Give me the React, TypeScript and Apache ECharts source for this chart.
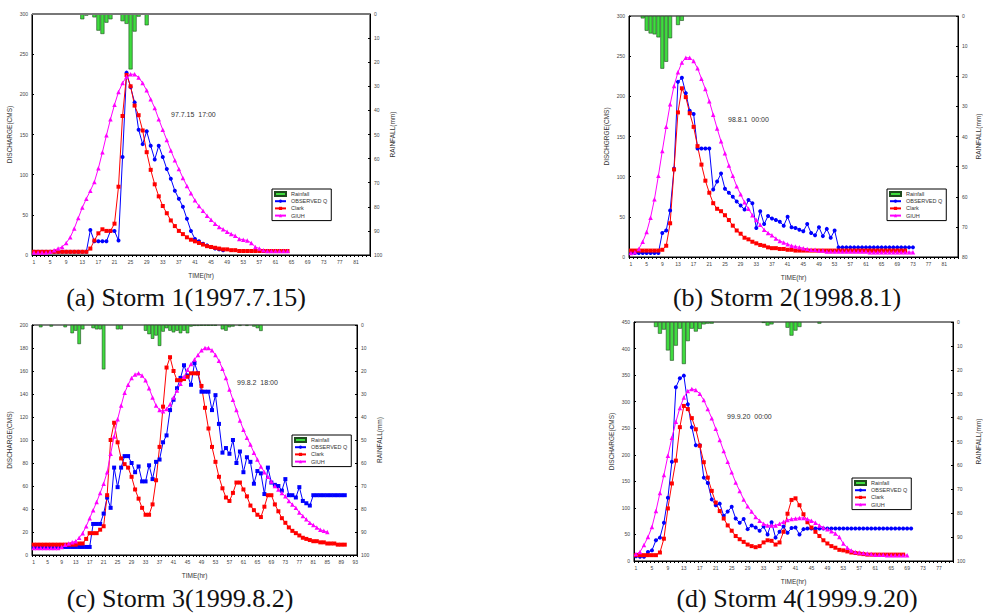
import React, { useEffect, useRef } from "react";
import * as echarts from "echarts";

// ---------- categories (hours) ----------
const hours = (n: number) => Array.from({ length: n }, (_, i) => String(i + 1));
const catsA = hours(84);
const catsB = hours(84);
const catsC = hours(93);
const catsD = hours(80);

// ---------- Storm 1 (1997.7.15) ----------
const rainA = [0, 0, 0, 0, 0, 0, 0, 0, 0, 0, 0, 0, 2.2, 0.7, 0, 1.4, 6.9, 8.3, 3.6, 2.2, 0.3, 0, 3, 4.1, 23, 7.3, 1.1, 0, 4.7];
const obsA = [4, 4, 4, 4, 4, 4, 4, 4, 4, 4, 4, 4, 4, 4,
  31, 17, 17, 17, 17, 30, 30, 18,
  122, 227, 209, 190, 156, 138, 154, 136, 119, 136,
  122, 107, 95, 80, 70, 60, 45, 30, 20, 17,
  14, 12, 10, 8, 7, 6];
const clarkA = [4, 4, 4, 4, 4, 4, 4, 4, 4, 4, 4, 4, 4, 4,
  8, 18, 27, 32, 30, 30, 39, 85, 173, 224,
  210, 186, 174, 155, 128, 106, 88, 73, 61, 52,
  43, 36, 30, 26, 22, 19, 17, 15, 13, 11,
  10, 9, 8, 7, 7, 6, 6, 5, 5, 5,
  5, 5, 5, 5, 5, 5, 5, 5, 5, 5];
const giuhA = [3, 3, 3, 3, 4, 6, 8, 10, 15, 22,
  33, 46, 59, 70, 80, 91, 108, 128, 149, 169,
  187, 203, 214, 222, 225, 225, 221, 214, 205, 194,
  183, 169, 156, 143, 130, 118, 107, 96, 86, 77,
  68, 61, 55, 49, 44, 39, 35, 32, 29, 26,
  24, 20, 19, 18, 15, 10, 8, 6, 5, 5,
  5, 5, 5, 5];

// ---------- Storm 2 (1998.8.1) ----------
const rainB = [0, 0, 0, 0.8, 4.9, 5.8, 6.1, 7.1, 17.5, 15.2, 7.4, 0, 3, 1.6];
const obsB = [5, 5, 5, 5, 5, 5, 5, 5,
  30, 33, 58, 110, 218, 223, 204, 182, 178, 135,
  135, 135, 135, 84, 94, 104, 85, 80, 75, 69,
  64, 59, 71, 67, 36, 57, 41, 51, 48, 46,
  44, 39, 50, 37, 36, 34, 32, 41, 30, 27,
  37, 26, 35, 24, 33,
  12, 12, 12, 12, 12, 12, 12, 12, 12, 12, 12, 12, 12, 12, 12, 12, 12, 12, 12, 12];
const clarkB = [8, 8, 8, 8, 8, 8, 8, 8,
  9, 14, 42, 109, 180, 210, 199, 179, 162, 138,
  115, 95, 80, 67, 60, 57, 52, 46, 39, 33,
  29, 24, 22, 19, 17, 15, 14, 12, 11, 11,
  10, 10, 9, 9, 8, 8, 8, 8, 8, 8,
  8, 8, 8, 8, 8, 8, 8, 8, 8, 8, 8, 8, 8, 8, 8, 8, 8, 8, 8, 8, 8, 8, 8];
const giuhB = [5, 6, 10, 19, 31, 49, 72, 101, 132, 162,
  190, 213, 230, 242, 248, 248, 244, 235, 222, 209,
  194, 177, 160, 144, 129, 114, 101, 88, 78, 68,
  60, 52, 46, 40, 34, 30, 27, 23, 20, 18,
  16, 14, 13, 12, 11, 10, 9, 9, 8, 8,
  7, 7, 7, 7, 7, 7, 7, 7, 7, 7, 7, 6, 6, 6, 6, 6, 6, 6, 6, 6, 6, 6, 6];

// ---------- Storm 3 (1999.8.2) ----------
const rainC = [0, 0, 1, 0, 0, 0.7, 0, 0, 0, 1,
  0, 3.6, 2.5, 8.3, 1.9, 0, 0, 1.4, 1.9, 1.9,
  19.3, 0, 0, 0, 1.9, 1.9, 0, 0, 0, 0,
  0, 0, 2.5, 4, 6, 4.6, 9.1, 2.9, 1.4, 2.5,
  3.2, 2.5, 3.6, 2.5, 3.6, 0.7, 0.4, 0.4, 0.3, 0.3,
  0.3, 0.3, 0.3, 0, 1.9, 2.5, 1, 0.7, 0, 0.4,
  0, 0.4, 0, 0.7, 1.4, 2.6];
const obsC = [7, 7, 7, 7, 7, 7, 7, 7, 7, 7, 7, 7, 7, 7, 7, 7, 7,
  27, 27, 27, 36, 50, 41, 76, 59, 76, 86,
  86, 80, 72, 77, 64, 64, 78, 66, 81, 83,
  98, 104, 126, 135, 145, 154, 165, 156, 148, 167,
  158, 142, 142, 142, 126, 139, 114, 89, 93, 88,
  100, 80, 90, 72, 85, 81, 62, 73, 71, 53,
  76, 63, 61, 60, 56, 66, 52, 52, 50, 59,
  47, 45, 43, 52,
  52, 52, 52, 52, 52, 52, 52, 52, 52];
const clarkC = [9, 9, 9, 9, 9, 9, 9, 9, 9, 9, 9, 9, 9,
  10, 10, 14, 19, 19, 19, 22, 25, 52, 100,
  115, 98, 84, 79, 76, 68, 57, 49, 41, 35,
  35, 44, 65, 94, 129, 163, 172, 160, 152, 152,
  153, 155, 158, 158, 158, 147, 128, 110, 94, 81,
  68, 58, 50, 47, 54, 63, 63, 57, 51, 43,
  39, 35, 33, 42, 52, 52, 44, 38, 32, 28,
  24, 21, 19, 17, 15, 14, 13, 12, 12, 11,
  11, 10, 10, 10, 9, 9, 9];
const giuhC = [6, 6, 6, 6, 6, 6, 6, 6, 7, 9,
  10, 11, 12, 15, 19, 25, 32, 39, 46, 54,
  62, 72, 88, 103, 118, 130, 141, 148, 154, 157,
  158, 156, 152, 145, 137, 130, 126, 125, 127, 131,
  137, 143, 149, 155, 161, 166, 170, 174, 178, 180,
  180, 178, 174, 169, 162, 154, 144, 135, 126, 117,
  109, 102, 96, 89, 83, 77, 72, 68, 64, 60,
  57, 54, 51, 47, 44, 41, 37, 34, 31, 28,
  26, 24, 22, 21, 20];

// ---------- Storm 4 (1999.9.20) ----------
const rainD = [0, 0, 0, 0, 0, 2.1, 4.9, 3.2, 11.9, 16.2,
  9.9, 2.8, 17.6, 8, 2.8, 4, 2.9, 1, 0.7, 0.7,
  0, 0, 0, 0, 0, 0, 0, 0, 0, 0,
  0, 0, 0.4, 1.5, 1, 0, 0, 0, 2.4, 5.7,
  3.6, 2.1, 0, 0, 0, 0, 0.7];
const obsD = [9, 8, 8, 17, 20, 39, 44, 72, 119, 187,
  327, 344, 349, 295, 252, 218, 218, 157, 147, 116,
  105, 108, 85, 93, 102, 80, 72, 79, 60, 67,
  63, 57, 65, 50, 73, 44, 55, 65, 53, 62,
  63, 50, 60,
  61, 61, 61, 61, 61, 61, 61, 61, 61, 61, 61, 61, 61, 61, 61, 61, 61, 61, 61, 61, 61, 61, 61, 61, 61, 61, 61];
const clarkD = [11, 11, 11, 11, 11, 11,
  16, 42, 99, 146, 189, 252, 292, 286, 269, 248,
  217, 186, 157, 132, 110, 94, 80, 67, 57, 47,
  41, 36, 31, 28, 26, 28, 35, 39, 38, 31,
  35, 55, 89, 115, 118, 105, 88, 73, 63, 55,
  47, 39, 33, 28, 25, 21, 20, 18, 16, 15,
  14, 13, 12, 12, 12, 12, 12, 12, 12, 12, 12, 12];
const giuhD = [13, 17, 30, 45, 64, 94, 128, 162, 198, 232,
  262, 288, 308, 320, 324, 322, 315, 303, 286, 269,
  249, 228, 207, 187, 167, 148, 132, 116, 103, 93,
  83, 76, 70, 67, 67, 67, 70, 74, 77, 79,
  80, 81, 81, 79, 76, 72, 67, 63, 60, 56,
  52, 45, 33, 25, 20, 17, 16, 15, 14, 13,
  12, 12, 12, 11, 11, 11, 11, 11, 11];

const seriesNames = ["Rainfall", "OBSERVED Q", "Clark", "GIUH"];
const yNames = ["DISCHARGE(CMS)", "DISCHGRGE(CMS)", "DISCHARGE(CMS)", "DISCHARGE(CMS)"];
const dateTexts = ["97.7.15  17:00", "98.8.1  00:00", "99.8.2  18:00", "99.9.20  00:00"];
const captions = ["(a) Storm 1(1997.7.15)", "(b) Storm 2(1998.8.1)", "(c) Storm 3(1999.8.2)", "(d) Storm 4(1999.9.20)"];

const panels = [
  { cats: catsA, rain: rainA, obs: obsA, clark: clarkA, giuh: giuhA, qMax: 300, qInt: 50, rMax: 100, obsSym: "circle", rGap: 19,
    grid: { left: 32, top: 14, width: 338, height: 241 }, legend: { left: 272, top: 189 }, date: [171, 115], cap: [186, 297] },
  { cats: catsB, rain: rainB, obs: obsB, clark: clarkB, giuh: giuhB, qMax: 300, qInt: 50, rMax: 80, obsSym: "circle", rGap: 17,
    grid: { left: 629, top: 16, width: 332, height: 241 }, legend: { left: 887, top: 189 }, date: [728, 120], cap: [787, 297] },
  { cats: catsC, rain: rainC, obs: obsC, clark: clarkC, giuh: giuhC, qMax: 200, qInt: 20, rMax: 100, obsSym: "rect", rGap: 19,
    grid: { left: 32, top: 325, width: 325, height: 230 }, legend: { left: 292, top: 435 }, date: [237, 383], cap: [180, 598] },
  { cats: catsD, rain: rainD, obs: obsD, clark: clarkD, giuh: giuhD, qMax: 450, qInt: 50, rMax: 100, obsSym: "circle", rGap: 22,
    grid: { left: 634, top: 322, width: 328, height: 239 }, legend: { left: 852, top: 478 }, date: [727, 417], cap: [797, 598] },
];

const FONT = "Liberation Sans, Arial, sans-serif";

function buildOption() {
  const grid: any[] = [];
  const xAxis: any[] = [];
  const yAxis: any[] = [];
  const series: any[] = [];
  const legend: any[] = [];
  const graphic: any[] = [];

  panels.forEach((p, i) => {
    grid.push({ ...p.grid, show: true, borderColor: "#000", borderWidth: 1, backgroundColor: "transparent" });
    xAxis.push({
      type: "category", gridIndex: i, data: p.cats, boundaryGap: true,
      axisLine: { lineStyle: { color: "#000", width: 1 } },
      axisTick: { show: true, interval: 0, length: 2, lineStyle: { color: "#000" } },
      axisLabel: { interval: 3, fontSize: 5, color: "#444", margin: 4, fontFamily: FONT },
      splitLine: { show: false },
      name: "TIME(hr)", nameLocation: "middle", nameGap: 17,
      nameTextStyle: { fontSize: 6.5, color: "#333", fontFamily: FONT },
    });
    yAxis.push({
      type: "value", gridIndex: i, position: "left", min: 0, max: p.qMax, interval: p.qInt,
      axisLine: { show: true, lineStyle: { color: "#000", width: 1 } },
      axisTick: { show: true, length: 2, inside: true, lineStyle: { color: "#000" } },
      axisLabel: { fontSize: 5, color: "#444", margin: 4, fontFamily: FONT },
      splitLine: { show: false },
      name: yNames[i], nameLocation: "middle", nameGap: 19, nameRotate: 90,
      nameTextStyle: { fontSize: 6.5, color: "#333", fontFamily: FONT },
    });
    yAxis.push({
      type: "value", gridIndex: i, position: "right", inverse: true, min: 0, max: p.rMax, interval: 10,
      axisLine: { show: true, lineStyle: { color: "#000", width: 1 } },
      axisTick: { show: true, length: 2, inside: true, lineStyle: { color: "#000" } },
      axisLabel: { fontSize: 5, color: "#444", margin: 4, fontFamily: FONT },
      splitLine: { show: false },
      name: "RAINFALL(mm)", nameLocation: "middle", nameGap: p.rGap, nameRotate: 90,
      nameTextStyle: { fontSize: 6.5, color: "#333", fontFamily: FONT },
    });
    series.push({
      type: "bar", name: seriesNames[0], xAxisIndex: i, yAxisIndex: 2 * i + 1,
      data: p.rain.map((v) => (v > 0 ? v : "-")), barCategoryGap: "0%",
      itemStyle: { color: "#3fdc3f", borderColor: "#1e4a1e", borderWidth: 0.6 }, z: 1,
    });
    const line = (name: string, data: number[], color: string, symbol: string, size: number) => ({
      type: "line", name, xAxisIndex: i, yAxisIndex: 2 * i, data, symbol, symbolSize: size,
      showSymbol: true, showAllSymbol: true,
      lineStyle: { color, width: 1 }, itemStyle: { color }, z: 3,
    });
    series.push(line(seriesNames[1], p.obs, "#0000ff", p.obsSym, 4));
    series.push(line(seriesNames[2], p.clark, "#ff0000", "rect", 4));
    series.push(line(seriesNames[3], p.giuh, "#ff00ff", "triangle", 4.5));

    legend.push({
      orient: "vertical", left: p.legend.left, top: p.legend.top,
      data: [{ name: "Rainfall", icon: "rect" }, "OBSERVED Q", "Clark", "GIUH"],
      itemWidth: 11, itemHeight: 4, itemGap: 1.2, padding: [2, 4, 2, 2],
      borderColor: "#000", borderWidth: 1, backgroundColor: "#fff",
      textStyle: { fontSize: 5.5, color: "#333", fontFamily: FONT, lineHeight: 6 },
      selectedMode: false,
    });

    graphic.push({
      type: "text", left: p.date[0], top: p.date[1] - 4,
      style: { text: dateTexts[i], font: `7px ${FONT}`, fill: "#333" },
    });
    graphic.push({
      type: "text", x: p.cap[0], y: p.cap[1],
      style: { text: captions[i], font: '26px "Liberation Serif", "DejaVu Serif", serif', fill: "#111",
        align: "center", verticalAlign: "middle" },
    });
  });

  // thick grey top frame of panel (a)
  graphic.push({
    type: "line", shape: { x1: 32, y1: 14, x2: 370, y2: 14 },
    style: { stroke: "#777", lineWidth: 2 }, z: 10,
  });

  return {
    animation: false,
    backgroundColor: "#fff",
    textStyle: { fontFamily: FONT },
    grid, xAxis, yAxis, series, legend, graphic,
  };
}

export default function App() {
  const ref = useRef<HTMLDivElement>(null);
  useEffect(() => {
    if (!ref.current) return;
    const chart = echarts.init(ref.current, undefined, { renderer: "svg" });
    chart.setOption(buildOption() as any);
    return () => chart.dispose();
  }, []);
  return (
    <div
      ref={ref}
      style={{ position: "absolute", left: 0, top: 0, width: 983, height: 614, background: "#fff" }}
    />
  );
}
